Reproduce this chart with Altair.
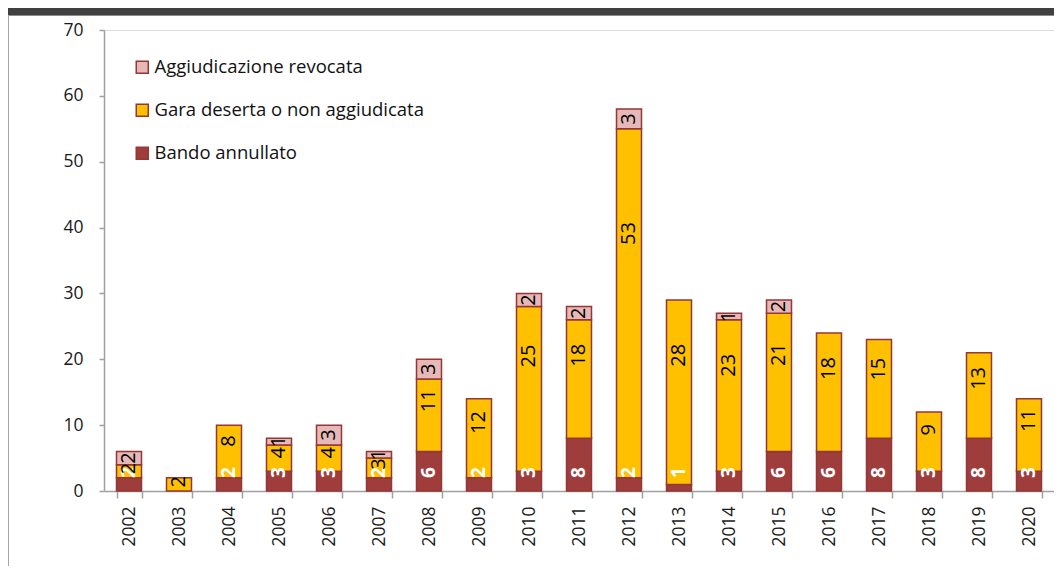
import altair as alt
import pandas as pd

anni = [str(a) for a in range(2002, 2021)]
bando = [2, 0, 2, 3, 3, 2, 6, 2, 3, 8, 2, 1, 3, 6, 6, 8, 3, 8, 3]
gara = [2, 2, 8, 4, 4, 3, 11, 12, 25, 18, 53, 28, 23, 21, 18, 15, 9, 13, 11]
revocata = [2, 0, 0, 1, 3, 1, 3, 0, 2, 2, 3, 0, 1, 2, 0, 0, 0, 0, 0]
serie_nomi = ["Bando annullato", "Gara deserta o non aggiudicata", "Aggiudicazione revocata"]
legenda_ordine = ["Aggiudicazione revocata", "Gara deserta o non aggiudicata", "Bando annullato"]
colori = ["#E6B9B8", "#FFC000", "#9E3D3C"]
y_ticks = [0, 10, 20, 30, 40, 50, 60, 70]

rows = []
for i, a in enumerate(anni):
    cum = 0
    for k, (nome, vals) in enumerate(zip(serie_nomi, [bando, gara, revocata])):
        v = vals[i]
        rows.append(dict(anno=a, serie=nome, valore=v, ord=k, y0=cum, y1=cum + v))
        cum += v
df = pd.DataFrame(rows)

FONT = "Open Sans"
AX = dict(grid=False, labelFont=FONT, labelFontSize=17.5, labelColor="#1a1a1a",
          domainColor="#A0A0A0", tickColor="#A0A0A0", domainWidth=1.5, tickWidth=1.5,
          title=None)
x_enc = alt.X("anno:N", sort=anni,
              scale=alt.Scale(paddingInner=0.5, paddingOuter=0.25),
              axis=alt.Axis(labelAngle=270, tickBand="extent", tickSize=7,
                            labelPadding=8, **AX))
y_scale = alt.Scale(domain=[0, 70], nice=False)

base = alt.Chart(df).transform_filter(alt.datum.valore > 0)

bars = base.mark_bar(stroke="#953735", strokeWidth=1.5).encode(
    x=x_enc,
    y=alt.Y("y0:Q", scale=y_scale,
            axis=alt.Axis(values=y_ticks, tickSize=5, labelPadding=16, **AX)),
    y2="y1:Q",
    color=alt.Color("serie:N",
                    scale=alt.Scale(domain=legenda_ordine, range=colori),
                    legend=alt.Legend(title=None, orient="none", legendX=29, legendY=28,
                                      symbolType="square", symbolSize=144,
                                      symbolStrokeColor="#953735", symbolStrokeWidth=1.5,
                                      labelFont=FONT, labelFontSize=18.5, labelColor="#111111",
                                      labelLimit=0, labelOffset=3, rowPadding=24, padding=0)),
)

lab_bando = base.transform_filter(alt.datum.serie == "Bando annullato").mark_text(
    angle=270, align="left", baseline="middle", dx=13, color="white",
    fontWeight="bold", fontSize=19, font=FONT
).encode(x=alt.X("anno:N", sort=anni), y=alt.Y("y0:Q", scale=y_scale), text="valore:Q")

lab_gara = base.transform_filter(alt.datum.serie == "Gara deserta o non aggiudicata").transform_calculate(
    ylab="datum.y0 + 0.7 * (datum.y1 - datum.y0)"
).mark_text(
    angle=270, align="center", baseline="middle", color="black", fontSize=20, font=FONT
).encode(x=alt.X("anno:N", sort=anni), y=alt.Y("ylab:Q", scale=y_scale), text="valore:Q")

lab_rev = base.transform_filter(alt.datum.serie == "Aggiudicazione revocata").transform_calculate(
    ylab="(datum.y0 + datum.y1) / 2"
).mark_text(
    angle=270, align="center", baseline="middle", color="black", fontSize=20, font=FONT
).encode(x=alt.X("anno:N", sort=anni), y=alt.Y("ylab:Q", scale=y_scale), text="valore:Q")

deco = pd.DataFrame({"k": [0]})
band = alt.Chart(deco).mark_rect(color="#404040").encode(
    x=alt.value(-96), x2=alt.value(950), y=alt.value(-22), y2=alt.value(-15))
band_line = alt.Chart(deco).mark_rule(color="#8C8C8C", strokeWidth=1).encode(
    x=alt.value(-96), x2=alt.value(950), y=alt.value(-14.5))
frame = alt.Chart(deco).mark_rule(color="#A6A6A6", strokeWidth=1).encode(
    x=alt.value(-95.5), y=alt.value(-15), y2=alt.value(536))

chart = alt.layer(band, band_line, frame, bars, lab_bando, lab_gara, lab_rev).properties(
    width=950, height=461,
    autosize=alt.AutoSizeParams(type="none"),
    padding={"left": 96, "top": 22, "right": 0, "bottom": 75},
).configure_view(stroke=None).configure_axis(grid=False).configure(background="white")

chart.save("out.html", embed_options={"renderer": "svg", "actions": False})
